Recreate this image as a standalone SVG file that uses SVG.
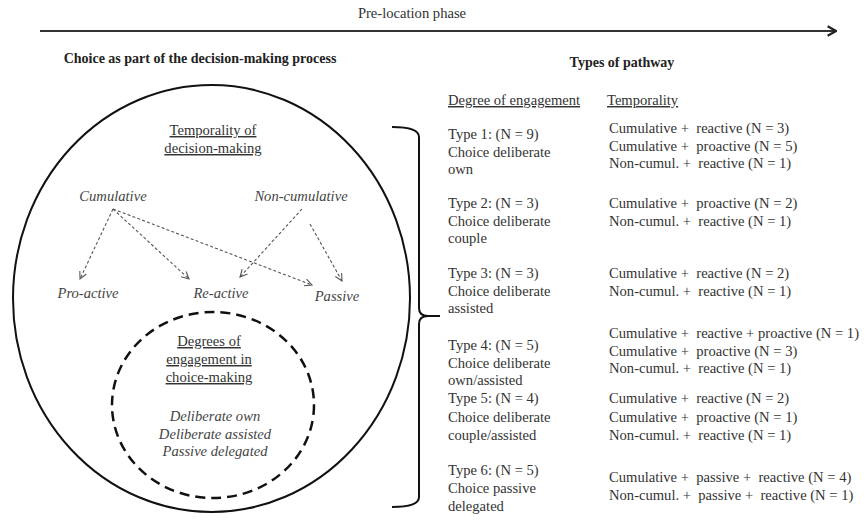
<svg xmlns="http://www.w3.org/2000/svg" width="867" height="523" viewBox="0 0 867 523">
<style>
text{font-family:"Liberation Serif","Times New Roman",serif;fill:#333;white-space:pre}
.t{font-size:14.6px}
.b{font-size:14px;font-weight:bold;fill:#222}
.i{font-size:14.6px;font-style:italic;fill:#444}
.u{text-decoration:underline}
.m{text-anchor:middle}
.dash{fill:none;stroke:#555;stroke-width:1.1;stroke-dasharray:3 2.2;marker-end:url(#oa)}
</style>
<defs>
<marker id="oa" viewBox="0 0 10 10" refX="9" refY="5" markerWidth="9" markerHeight="9" markerUnits="userSpaceOnUse" orient="auto">
<path d="M1,1 L9,5 L1,9" fill="none" stroke="#555" stroke-width="1.2"/>
</marker>
<marker id="ta" viewBox="0 0 10 10" refX="9" refY="5" markerWidth="12" markerHeight="12" markerUnits="userSpaceOnUse" orient="auto">
<path d="M2,1 L9,5 L2,9" fill="none" stroke="#222" stroke-width="1.8"/>
</marker>
</defs>

<g id="timeline">
<line x1="40" y1="31" x2="836" y2="31" stroke="#333" stroke-width="2" marker-end="url(#ta)"/>
<text class="t m" x="412" y="18">Pre-location phase</text>
</g>

<g id="headings">
<text class="b m" x="200" y="63">Choice as part of the decision-making process</text>
<text class="b m" x="622" y="67">Types of pathway</text>
</g>

<g id="outer-circle">
<ellipse cx="211.5" cy="298.5" rx="198.5" ry="213.5" fill="none" stroke="#111" stroke-width="2"/>
</g>

<g id="temporality-title">
<text class="t m u" x="213" y="135">Temporality of</text>
<text class="t m u" x="213" y="153">decision-making</text>
</g>

<g id="cumulative"><text class="i m" x="113" y="201">Cumulative</text></g>
<g id="non-cumulative"><text class="i m" x="301" y="201">Non-cumulative</text></g>
<g id="pro-active"><text class="i m" x="88" y="298">Pro-active</text></g>
<g id="re-active"><text class="i m" x="221" y="298">Re-active</text></g>
<g id="passive"><text class="i m" x="337" y="301">Passive</text></g>

<g id="connectors">
<line class="dash" x1="113" y1="209" x2="80" y2="279"/>
<line class="dash" x1="113" y1="209" x2="189" y2="279"/>
<line class="dash" x1="113" y1="209" x2="312" y2="285"/>
<line class="dash" x1="302" y1="209" x2="240" y2="277"/>
<line class="dash" x1="310" y1="224" x2="342" y2="281"/>
</g>

<g id="engagement-circle">
<ellipse cx="213" cy="405" rx="101" ry="93" fill="none" stroke="#111" stroke-width="2.5" stroke-dasharray="10 6"/>
<text class="t m u" x="209" y="346">Degrees of</text>
<text class="t m u" x="209" y="364">engagement in</text>
<text class="t m u" x="209" y="382">choice-making</text>
<text class="i m" x="215" y="421">Deliberate own</text>
<text class="i m" x="215" y="439">Deliberate assisted</text>
<text class="i m" x="215" y="456">Passive delegated</text>
</g>

<g id="bracket">
<path d="M392,127 Q419,127 419,137 L419,308 Q419,316 428,316 L440,316 M428,316 Q419,316 419,324 L419,497 Q419,507 392,507" fill="none" stroke="#111" stroke-width="2"/>
</g>

<g id="column-headers">
<text class="t u" x="448" y="105">Degree of engagement</text>
<text class="t u" x="607" y="105">Temporality</text>
</g>

<g id="type1">
<text class="t" x="448" y="139">Type 1: (N = 9)</text>
<text class="t" x="448" y="156.5">Choice deliberate</text>
<text class="t" x="448" y="174">own</text>
<text class="t" x="609" y="133">Cumulative +  reactive (N = 3)</text>
<text class="t" x="609" y="150.5">Cumulative +  proactive (N = 5)</text>
<text class="t" x="609" y="168">Non-cumul. +  reactive (N = 1)</text>
</g>

<g id="type2">
<text class="t" x="448" y="208">Type 2: (N = 3)</text>
<text class="t" x="448" y="225.5">Choice deliberate</text>
<text class="t" x="448" y="243">couple</text>
<text class="t" x="609" y="208">Cumulative +  proactive (N = 2)</text>
<text class="t" x="609" y="225.5">Non-cumul. +  reactive (N = 1)</text>
</g>

<g id="type3">
<text class="t" x="448" y="278">Type 3: (N = 3)</text>
<text class="t" x="448" y="295.5">Choice deliberate</text>
<text class="t" x="448" y="313">assisted</text>
<text class="t" x="609" y="278">Cumulative +  reactive (N = 2)</text>
<text class="t" x="609" y="295.5">Non-cumul. +  reactive (N = 1)</text>
</g>

<g id="type4">
<text class="t" x="448" y="350">Type 4: (N = 5)</text>
<text class="t" x="448" y="367.5">Choice deliberate</text>
<text class="t" x="448" y="385">own/assisted</text>
<text class="t" x="609" y="338">Cumulative +  reactive + proactive (N = 1)</text>
<text class="t" x="609" y="356">Cumulative +  proactive (N = 3)</text>
<text class="t" x="609" y="373">Non-cumul. +  reactive (N = 1)</text>
</g>

<g id="type5">
<text class="t" x="448" y="403">Type 5: (N = 4)</text>
<text class="t" x="448" y="421.5">Choice deliberate</text>
<text class="t" x="448" y="439.5">couple/assisted</text>
<text class="t" x="609" y="403">Cumulative +  reactive (N = 2)</text>
<text class="t" x="609" y="421.5">Cumulative +  proactive (N = 1)</text>
<text class="t" x="609" y="439.5">Non-cumul. +  reactive (N = 1)</text>
</g>

<g id="type6">
<text class="t" x="448" y="475">Type 6: (N = 5)</text>
<text class="t" x="448" y="493">Choice passive</text>
<text class="t" x="448" y="511">delegated</text>
<text class="t" x="609" y="481.5">Cumulative +  passive +  reactive (N = 4)</text>
<text class="t" x="609" y="499.5">Non-cumul. +  passive +  reactive (N = 1)</text>
</g>
</svg>
